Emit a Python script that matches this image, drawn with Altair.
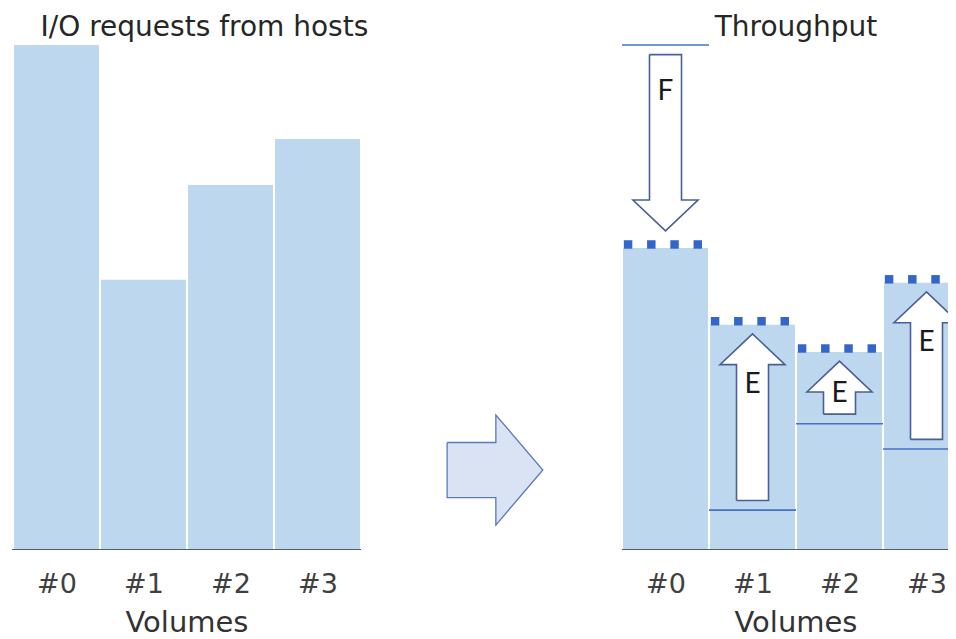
import json
import altair as alt
import pandas as pd

# ---------------- data ----------------
volumes = ["#0", "#1", "#2", "#3"]
io_requests = [100.0, 53.5, 72.3, 81.4]      # left panel bar heights
throughput = [59.8, 44.6, 39.2, 52.9]        # right panel bar heights
start_level = [100.0, 7.9, 25.0, 20.0]       # horizontal reference lines (right panel)
arrow_labels = ["F", "E", "E", "E"]
panel_titles = ["I/O requests from hosts", "Throughput"]
axis_title = "Volumes"

# ---------------- layout ----------------
PXX = 87.0            # px per x unit (one bar slot)
PXY = 5.05            # px per y unit
RIGHT = 7.0           # x offset of the right panel
X_MIN = -5.0 / PXX
W = 940
H = 510
X_MAX = X_MIN + W / PXX
Y_MAX = H / PXY
GAP = 0.012

xs = alt.Scale(domain=[X_MIN, X_MAX], nice=False, zero=False)
ys = alt.Scale(domain=[0, Y_MAX], nice=False, zero=False)

# bars
bar_rows = []
for off, vals in [(0.0, io_requests), (RIGHT, throughput)]:
    for i, v in enumerate(vals):
        bar_rows.append({"x": off + i + GAP, "x2": off + i + 1 - GAP, "y": 0.0, "y2": v})
bars_df = pd.DataFrame(bar_rows)

# reference lines
line_df = pd.DataFrame([{"x": RIGHT + i, "x2": RIGHT + i + 1, "y": s} for i, s in enumerate(start_level)])

# dotted tops
dot_rows = []
for i, t in enumerate(throughput):
    for k in range(4):
        dot_rows.append({"x": RIGHT + i + 0.07 + 0.267 * k, "y": t + 0.7})
dots_df = pd.DataFrame(dot_rows)

# arrows (polygons) from start level towards the throughput level
SW, HW, HEAD = 0.184, 0.374, 6.1
arrow_rows, label_rows = [], []
for i, (s, t, lab) in enumerate(zip(start_level, throughput, arrow_labels)):
    cx = RIGHT + i + 0.5
    d = 1 if t > s else -1
    tail = s + d * 1.9
    tip = t - d * (1.8 if d > 0 else 3.4)
    base = tip - d * HEAD
    verts = [(cx - SW, tail), (cx - SW, base), (cx - HW, base), (cx, tip),
             (cx + HW, base), (cx + SW, base), (cx + SW, tail), (cx - SW, tail)]
    for k, (vx, vy) in enumerate(verts):
        arrow_rows.append({"arrow": f"a{i}", "k": k, "x": vx, "y": vy})
    shaft = abs(base - tail)
    if d > 0:
        ly = base - min(4.0, max(0.4, shaft - 4.0))
    else:
        ly = tail - 7.4
    label_rows.append({"x": cx, "y": ly, "t": lab})
arrows_df = pd.DataFrame(arrow_rows)
labels_df = pd.DataFrame(label_rows)

# transition arrow between the panels
xt, xn, xp, yc, sh, hh = 4.99, 5.55, 6.09, 15.84, 5.45, 10.9
mid_verts = [(xt, yc + sh), (xn, yc + sh), (xn, yc + hh), (xp, yc), (xn, yc - hh),
             (xn, yc - sh), (xt, yc - sh), (xt, yc + sh)]
mid_df = pd.DataFrame([{"k": k, "x": a, "y": b} for k, (a, b) in enumerate(mid_verts)])

# baselines
base_df = pd.DataFrame([{"x": -0.011, "x2": 4.0, "y": 0.0}, {"x": RIGHT, "x2": X_MAX, "y": 0.0}])

# texts
title_df = pd.DataFrame([{"x": 2.2, "y": 101.8, "t": panel_titles[0]},
                         {"x": RIGHT + 2.0, "y": 101.8, "t": panel_titles[1]}])
vol_df = pd.DataFrame([{"x": 2.0, "y": -16.2, "t": axis_title},
                       {"x": RIGHT + 2.0, "y": -16.2, "t": axis_title}])

tick_vals = [i + 0.5 for i in range(4)] + [RIGHT + i + 0.5 for i in range(4)]
label_map = {f"{v:.1f}": volumes[j % 4] for j, v in enumerate(tick_vals)}
label_expr = json.dumps(label_map) + "[datum.label]"

xaxis = alt.Axis(values=tick_vals, format=".1f", labelExpr=label_expr, domain=False, ticks=False,
                 grid=False, title=None, labelFont="DejaVu Sans", labelFontSize=27,
                 labelColor="#404040", labelBaseline="alphabetic", labelPadding=42,
                 labelFlush=False, labelOverlap=False)


def X(field="x:Q"):
    return alt.X(field, scale=xs, axis=xaxis)


def Y(field="y:Q"):
    return alt.Y(field, scale=ys, axis=None)


bars = alt.Chart(bars_df).mark_rect(color="#bdd7ee", clip=True).encode(
    x=X(), x2="x2:Q", y=Y(), y2="y2:Q")

base = alt.Chart(base_df).mark_rule(color="#4f5d6c", strokeWidth=2, clip=True).encode(
    x=X(), x2="x2:Q", y=Y())

lines = alt.Chart(line_df).mark_rule(color="#4472c4", strokeWidth=1.6, clip=True).encode(
    x=X(), x2="x2:Q", y=Y())

dots = alt.Chart(dots_df).mark_square(size=72, color="#3366c8", opacity=1, strokeWidth=0, clip=True).encode(
    x=X(), y=Y())

arrows = alt.Chart(arrows_df).mark_line(fill="white", stroke="#4a5f98", strokeWidth=1.6,
                                        strokeJoin="miter", clip=True).encode(
    x=X(), y=Y(), order="k:Q", detail="arrow:N")

letters = alt.Chart(labels_df).mark_text(font="Lato", fontSize=28, color="#1a1a1a",
                                         baseline="middle", align="center").encode(
    x=X(), y=Y(), text="t:N")

mid = alt.Chart(mid_df).mark_line(fill="#dae3f3", stroke="#5b78bd", strokeWidth=1.3,
                                  strokeJoin="miter").encode(
    x=X(), y=Y(), order="k:Q")

titles = alt.Chart(title_df).mark_text(font="DejaVu Sans", fontSize=28, color="#262626",
                                       baseline="alphabetic", align="center").encode(
    x=X(), y=Y(), text="t:N")

vols = alt.Chart(vol_df).mark_text(font="DejaVu Sans", fontSize=29, color="#333333",
                                   baseline="alphabetic", align="center").encode(
    x=X(), y=Y(), text="t:N")

chart = alt.layer(bars, base, lines, arrows, dots, letters, mid, titles, vols).properties(
    width=W, height=H,
    autosize=alt.AutoSizeParams(type="none"),
    padding={"left": 0, "top": 32, "right": 0, "bottom": 89},
    background="white",
).configure_view(stroke=None)

chart.save("out.html", embed_options={"renderer": "svg", "actions": False})
